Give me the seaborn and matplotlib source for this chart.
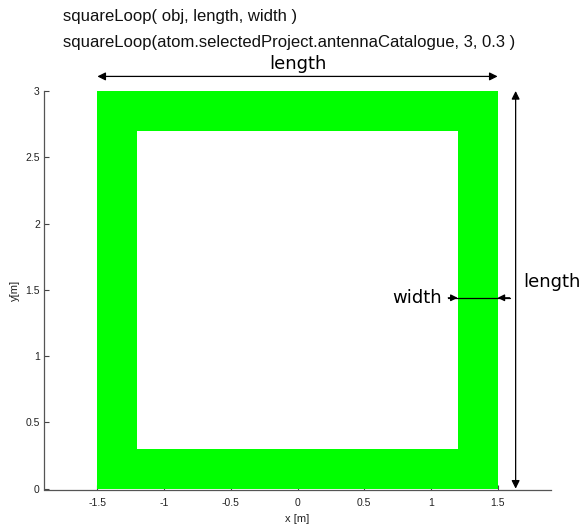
import matplotlib
matplotlib.use("Agg")
import matplotlib.pyplot as plt
from matplotlib.path import Path
from matplotlib.patches import PathPatch
import seaborn as sns
import numpy as np

# ---- data ----
loop_length = 3.0
loop_width = 0.3
x_ticks = [-1.5, -1, -0.5, 0, 0.5, 1, 1.5]
x_tick_labels = ["-1.5", "-1", "-0.5", "0", "0.5", "1", "1.5"]
y_ticks = [0, 0.5, 1, 1.5, 2, 2.5, 3]
y_tick_labels = ["0", "0.5", "1", "1.5", "2", "2.5", "3"]
title_lines = ["squareLoop( obj, length, width )",
               "squareLoop(atom.selectedProject.antennaCatalogue, 3, 0.3 )"]
x_label = "x [m]"
y_label = "y[m]"

sns.set_style("ticks")
plt.rcParams["font.family"] = ["Liberation Sans", "DejaVu Sans"]

fig = plt.figure(figsize=(5.85, 5.24), dpi=100)
ax = fig.add_axes([44/585, 1-490/524, (551-44)/585, (490-91)/524])

h = loop_length / 2
ih = h - loop_width
outer = [(-h, 0), (h, 0), (h, loop_length), (-h, loop_length), (-h, 0)]
inner = [(-ih, loop_width), (-ih, loop_length - loop_width),
         (ih, loop_length - loop_width), (ih, loop_width), (-ih, loop_width)]
verts = outer + inner
codes = ([Path.MOVETO] + [Path.LINETO]*3 + [Path.CLOSEPOLY]) * 2
ax.add_patch(PathPatch(Path(verts, codes), facecolor="#00ff00", edgecolor="none"))

ax.set_xlim(-1.9, 1.9)
ax.set_ylim(-0.01, loop_length)
ax.set_xticks(x_ticks)
ax.set_xticklabels(x_tick_labels)
ax.set_yticks(y_ticks)
ax.set_yticklabels(y_tick_labels)
ax.tick_params(direction="in", length=3.5, width=0.8, colors="#444444",
               labelsize=7.5, labelcolor="#222222")
ax.tick_params(axis="x", pad=6)
ax.tick_params(axis="y", pad=3)
sns.despine(ax=ax)
for s in ("left", "bottom"):
    ax.spines[s].set_color("#555555")
    ax.spines[s].set_linewidth(0.9)
ax.spines["left"].set_bounds(0, loop_length)

ax.set_xlabel(x_label, fontsize=8, color="#222222", labelpad=4)
ax.set_ylabel(y_label, fontsize=8, color="#222222", labelpad=4)

# annotations
ann_font = dict(family="DejaVu Sans", fontsize=13, color="black")
arrow_kw = dict(arrowstyle="<|-|>", color="black", lw=0.9,
                mutation_scale=12, shrinkA=0, shrinkB=0)
ya = 3.11
ax.annotate("", xy=(-h, ya), xytext=(h, ya), arrowprops=arrow_kw,
            annotation_clip=False)
ax.text(0, 3.20, "length", ha="center", va="center", **ann_font)
xv = 1.635
ax.annotate("", xy=(xv, 0), xytext=(xv, loop_length), arrowprops=arrow_kw,
            annotation_clip=False)
ax.text(1.69, 1.56, "length", ha="left", va="center", **ann_font)

yw = 1.44
ax.plot([1.13, 1.59], [yw, yw], color="black", lw=0.9, clip_on=False)
one = dict(arrowstyle="-|>", color="black", lw=0.9, mutation_scale=10,
           shrinkA=0, shrinkB=0)
ax.annotate("", xy=(ih, yw), xytext=(1.13, yw), arrowprops=one,
            annotation_clip=False)
ax.annotate("", xy=(h, yw), xytext=(1.59, yw), arrowprops=one,
            annotation_clip=False)
ax.text(1.08, yw, "width", ha="right", va="center", **ann_font)

fig.text(63/585, 1-17/524, title_lines[0], ha="left", va="center",
         fontsize=12, color="#111111")
fig.text(63/585, 1-42/524, title_lines[1], ha="left", va="center",
         fontsize=12, color="#111111")

fig.savefig("out.png", dpi=100)
